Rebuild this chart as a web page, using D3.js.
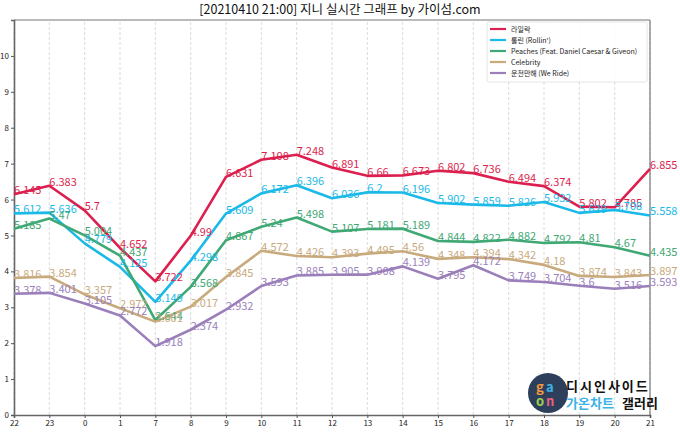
<!DOCTYPE html>
<html><head><meta charset="utf-8">
<script src="https://cdn.jsdelivr.net/npm/d3@7"></script>
<style>body{margin:0;background:#fff;} svg{display:block;font-family:"Noto Sans CJK KR","Noto Sans",sans-serif;}</style>
</head><body>
<svg id="c" width="680" height="432"></svg>
<script>
const hours = ["22","23","0","1","7","8","9","10","11","12","13","14","15","16","17","18","19","20","21"];
const seriesNames = ["라일락","롤린 (Rollin')","Peaches (Feat. Daniel Caesar & Giveon)","Celebrity","운전만해 (We Ride)"];
const lilac     = [6.145,6.383,5.7,4.652,3.722,4.99,6.631,7.108,7.248,6.891,6.66,6.673,6.802,6.736,6.494,6.374,5.802,5.785,6.855];
const rollin    = [5.612,5.636,4.779,4.125,3.149,4.298,5.609,6.172,6.396,6.036,6.2,6.196,5.902,5.859,5.826,5.932,5.629,5.708,5.558];
const peaches   = [5.185,5.47,5.004,4.437,2.644,3.568,4.867,5.24,5.498,5.107,5.181,5.189,4.844,4.822,4.882,4.792,4.81,4.67,4.435];
const celebrity = [3.816,3.854,3.357,2.972,2.601,3.017,3.845,4.572,4.426,4.393,4.495,4.56,4.348,4.394,4.342,4.18,3.874,3.843,3.897];
const weRide    = [3.378,3.401,3.105,2.772,1.918,2.374,2.932,3.593,3.885,3.905,3.908,4.139,3.795,4.172,3.749,3.704,3.6,3.516,3.593];
const yTicks = [0,1,2,3,4,5,6,7,8,9,10];
const colors = ["#dc1f4e","#1ab9e8","#3fa874","#c8aa7d","#9a7fbb"];
const allSeries = [lilac, rollin, peaches, celebrity, weRide];

const svg = d3.select("#c");
const m = {l:14, r:30, t:20, b:17};
const W = 680, H = 432;
const x = d3.scalePoint().domain(hours).range([m.l, W - m.r]);
const y = d3.scaleLinear().domain([0, 11]).range([H - m.b, m.t]);

// grid
svg.append("g").selectAll("line").data(hours).join("line")
  .attr("x1", d => x(d)).attr("x2", d => x(d))
  .attr("y1", y(0)).attr("y2", y(11))
  .attr("stroke", "#d0d0d0").attr("stroke-width", 0.8).attr("stroke-dasharray", "3,2");

// frame
svg.append("line").attr("x1", m.l).attr("x2", W - m.r).attr("y1", y(11)).attr("y2", y(11)).attr("stroke", "#777").attr("stroke-width", 1.2);
svg.append("line").attr("x1", W - m.r).attr("x2", W - m.r).attr("y1", y(0)).attr("y2", y(11)).attr("stroke", "#777").attr("stroke-width", 1.2);

// axes
const ax = svg.append("g").attr("transform", `translate(0,${y(0)})`)
  .call(d3.axisBottom(x).tickSize(3).tickPadding(2));
const ay = svg.append("g").attr("transform", `translate(${m.l},0)`)
  .call(d3.axisLeft(y).tickValues(yTicks).tickSize(3).tickPadding(2).tickFormat(d3.format("d")));
[ax, ay].forEach(g => {
  g.select(".domain").attr("stroke", "#666").attr("stroke-width", 1.6);
  g.selectAll(".tick line").attr("stroke", "#555");
  g.selectAll("text").attr("fill", "#222").style("font-size", "8px").style("font-family", '"Noto Sans CJK KR",sans-serif');
});

// lines
const line = d3.line().x((d, i) => x(hours[i])).y(d => y(d));
allSeries.forEach((s, k) => {
  svg.append("path").datum(s).attr("d", line).attr("fill", "none")
    .attr("stroke", colors[k]).attr("stroke-width", 2.6).attr("stroke-linejoin", "round");
});
// labels
allSeries.forEach((s, k) => {
  svg.append("g").selectAll("text").data(s).join("text")
    .attr("x", (d, i) => x(hours[i])).attr("y", d => y(d))
    .attr("fill", colors[k]).style("font-size", "11px")
    .text(d => String(d));
});

// title
svg.append("text").attr("x", 340).attr("y", 14).attr("text-anchor", "middle")
  .style("font-size", "12.5px").attr("fill", "#111")
  .text("[20210410 21:00] 지니 실시간 그래프 by 가이섬.com");

// legend
const lg = svg.append("g").attr("transform", "translate(487,22)");
lg.append("rect").attr("width", 160).attr("height", 60).attr("rx", 2)
  .attr("fill", "#fff").attr("fill-opacity", 0.85).attr("stroke", "#ddd").attr("stroke-width", 0.8);
seriesNames.forEach((n, k) => {
  const yy = 7 + k * 11;
  lg.append("line").attr("x1", 3).attr("x2", 19).attr("y1", yy).attr("y2", yy)
    .attr("stroke", colors[k]).attr("stroke-width", 2.2);
  lg.append("text").attr("x", 24).attr("y", yy + 2.5).style("font-size", "7px").attr("fill", "#222").text(n);
});

// watermark
const wm = svg.append("g");
wm.append("circle").attr("cx", 548).attr("cy", 393).attr("r", 20).attr("fill", "#2e3f5c");
wm.append("text").attr("x", 536).attr("y", 392).style("font-size", "13px").style("font-weight", "bold").attr("fill", "#f39a3a").text("g");
wm.append("text").attr("x", 546).attr("y", 392).style("font-size", "13px").style("font-weight", "bold").attr("fill", "#3ab4e6").text("a");
wm.append("text").attr("x", 536).attr("y", 406).style("font-size", "13px").style("font-weight", "bold").attr("fill", "#9ad04a").text("o");
wm.append("text").attr("x", 546).attr("y", 406).style("font-size", "13px").style("font-weight", "bold").attr("fill", "#e8607e").text("n");
wm.append("text").attr("x", 566).attr("y", 391).style("font-size", "13px").style("font-weight", "bold").attr("fill", "#111").attr("letter-spacing", "2px").text("디시인사이드");
wm.append("text").attr("x", 566).attr("y", 408).style("font-size", "13px").style("font-weight", "bold").attr("fill", "#3ab4e6").text("가온차트");
wm.append("text").attr("x", 622).attr("y", 408).style("font-size", "13px").style("font-weight", "bold").attr("fill", "#111").text("갤러리");
</script>
</body></html>
